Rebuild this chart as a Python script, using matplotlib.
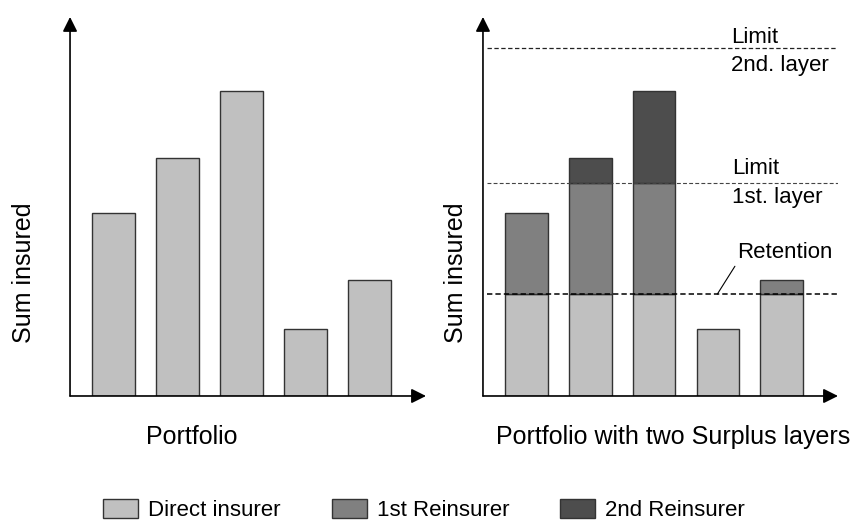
import numpy as np
import matplotlib
matplotlib.use("Agg")
import matplotlib.pyplot as plt
from matplotlib.patches import Patch

plt.rcParams['font.family'] = ['Liberation Sans', 'DejaVu Sans']

# sums insured of the five risks (arbitrary units)
risks = [0, 1, 2, 3, 4]
sums = np.array([60, 78, 100, 22, 38])
retention = 33.4
limit_1st = 70
limit_2nd = 114

c_direct = '#c0c0c0'
c_first = '#808080'
c_second = '#4d4d4d'
edge = '#333333'
legend_labels = ['Direct insurer', '1st Reinsurer', '2nd Reinsurer']


def draw_axes(ax, ylab_x):
    ax.set_xlim(-0.68, 4.88)
    ax.set_ylim(0, 124.3)
    for s in ax.spines.values():
        s.set_visible(False)
    ax.set_xticks([])
    ax.set_yticks([])
    arrow = dict(arrowstyle='-|>', color='black', lw=1.2, mutation_scale=22,
                 shrinkA=0, shrinkB=0)
    ax.annotate('', xy=(1, 0), xytext=(0, 0), xycoords='axes fraction',
                arrowprops=arrow, annotation_clip=False)
    ax.annotate('', xy=(0, 1), xytext=(0, 0), xycoords='axes fraction',
                arrowprops=arrow, annotation_clip=False)
    ax.text(ylab_x, 0.325, 'Sum insured', rotation=90,
            fontsize=18, ha='center', va='center', transform=ax.transAxes)


fig = plt.figure(figsize=(8.53, 5.22), dpi=100)
ax1 = fig.add_axes([0.0821, 0.2414, 0.4173, 0.7261])
ax2 = fig.add_axes([0.5662, 0.2414, 0.4162, 0.7261])

# left: plain portfolio
draw_axes(ax1, -0.128)
ax1.bar(risks, sums, width=0.67, color=c_direct, edgecolor=edge, lw=1)
ax1.text(0.343, -0.108, 'Portfolio', fontsize=18, ha='center', va='center',
         transform=ax1.transAxes)

# right: split in two surplus layers
draw_axes(ax2, -0.075)
direct = np.minimum(sums, retention)
first = np.clip(sums, retention, limit_1st) - retention
second = np.clip(sums, limit_1st, None) - limit_1st
ax2.bar(risks, direct, width=0.67, color=c_direct, edgecolor=edge, lw=1)
m1 = first > 0
ax2.bar(np.array(risks)[m1], first[m1], bottom=direct[m1], width=0.67,
        color=c_first, edgecolor=edge, lw=1)
m2 = second > 0
ax2.bar(np.array(risks)[m2], second[m2], bottom=limit_1st, width=0.67,
        color=c_second, edgecolor=edge, lw=1)

ax2.axhline(retention, xmin=0.01, xmax=1.0, color='black', lw=1.1, dashes=(3.5, 2))
ax2.axhline(limit_1st, xmin=0.01, xmax=1.0, color='#444444', lw=0.8, dashes=(3.5, 2))
ax2.axhline(limit_2nd, xmin=0.01, xmax=1.0, color='#222222', lw=0.9, dashes=(3.5, 2))

ax2.text(3.21, limit_2nd + 3.6, 'Limit', fontsize=16, ha='left', va='center')
ax2.text(3.21, limit_2nd - 5.6, '2nd. layer', fontsize=16, ha='left', va='center')
ax2.text(3.22, limit_1st + 4.6, 'Limit', fontsize=16, ha='left', va='center')
ax2.text(3.22, limit_1st - 4.8, '1st. layer', fontsize=16, ha='left', va='center')
ax2.annotate('Retention', xy=(2.99, retention), xytext=(4.04, 46.9),
             fontsize=16, ha='center', va='center',
             arrowprops=dict(arrowstyle='-', color='black', lw=0.8,
                             shrinkA=0, shrinkB=0, relpos=(0.0, 0.0)))
ax2.text(0.535, -0.108, 'Portfolio with two Surplus layers', fontsize=18,
         ha='center', va='center', transform=ax2.transAxes)

handles = [Patch(facecolor=c, edgecolor=edge, lw=1)
           for c in (c_direct, c_first, c_second)]
fig.legend(handles, legend_labels, loc='center', bbox_to_anchor=(0.497, 1 - 510 / 522),
           ncol=3, frameon=False, fontsize=16, handlelength=1.58, handleheight=0.9,
           handletextpad=0.45, columnspacing=2.3)

fig.savefig('out.png', dpi=100)
